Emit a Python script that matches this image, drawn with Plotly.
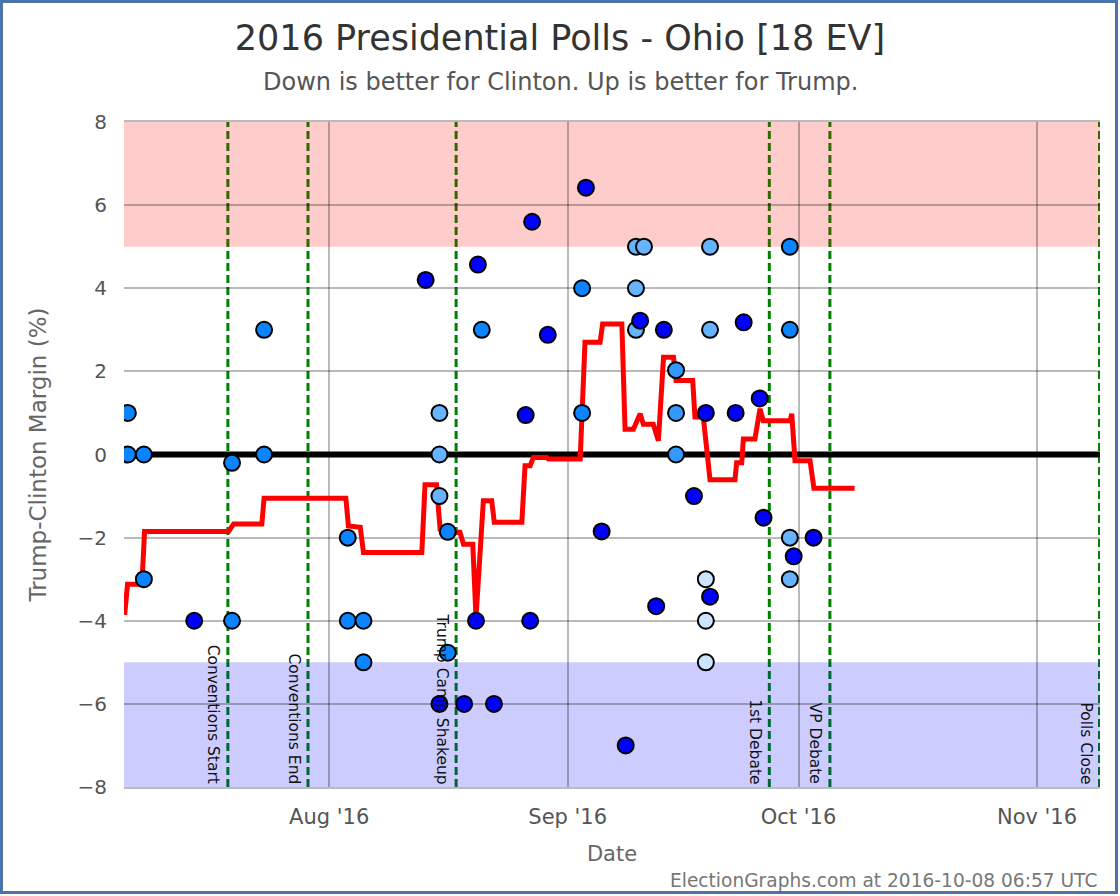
import plotly.graph_objects as go

# ---------------- data ----------------
poll_dates = [
    "2016-07-05 20:00", "2016-07-05 20:00", "2016-07-07 22:00", "2016-07-07 22:00",
    "2016-07-14 11:00", "2016-07-19 09:00", "2016-07-19 09:00", "2016-07-23 13:00",
    "2016-07-23 13:00", "2016-08-03 10:00", "2016-08-03 10:00", "2016-08-05 11:00",
    "2016-08-05 11:00", "2016-08-13 13:00", "2016-08-15 08:00", "2016-08-15 08:00",
    "2016-08-15 08:00", "2016-08-15 08:00", "2016-08-16 10:00", "2016-08-16 10:00",
    "2016-08-18 13:00", "2016-08-20 08:00", "2016-08-20 02:00", "2016-08-20 20:00",
    "2016-08-22 10:00", "2016-08-26 13:00", "2016-08-27 03:00", "2016-08-27 09:00",
    "2016-08-29 10:00", "2016-09-02 21:00", "2016-09-02 21:00", "2016-09-03 09:00",
    "2016-09-05 10:00", "2016-09-08 13:00", "2016-09-09 21:00", "2016-09-09 21:00",
    "2016-09-09 21:00", "2016-09-10 22:00", "2016-09-10 10:00", "2016-09-12 12:00",
    "2016-09-13 12:00", "2016-09-15 02:00", "2016-09-15 02:00", "2016-09-15 02:00",
    "2016-09-17 10:00", "2016-09-18 23:00", "2016-09-18 23:00", "2016-09-18 23:00",
    "2016-09-18 23:00", "2016-09-19 12:00", "2016-09-19 12:00", "2016-09-19 12:00",
    "2016-09-22 20:00", "2016-09-23 21:00", "2016-09-25 23:00", "2016-09-26 11:00",
    "2016-09-29 21:00", "2016-09-29 21:00", "2016-09-29 21:00", "2016-09-29 21:00",
    "2016-09-30 09:00", "2016-10-02 23:00",
]
poll_margins = [
    1, 0, 0, -3,
    -4, -0.2, -4, 0,
    3, -2, -4, -4,
    -5, 4.2, 1, 0,
    -1, -6, -1.86, -4.77,
    -6, 4.57, -4, 3,
    -6, 0.95, -4, 5.6,
    2.88, 1, 4, 6.42,
    -1.85, -7, 5, 4,
    3, 5, 3.22, -3.65,
    3, 2.03, 1, 0,
    -1, 1, -3, -4,
    -5, -3.42, 5, 3,
    1, 3.18, 1.35, -1.52,
    5, 3, -2, -3,
    -2.45, -2,
]
# 0 = faintest (superseded) ... 4 = strongest
poll_shade = [
    3, 3, 3, 3,
    4, 3, 3, 3,
    3, 3, 3, 3,
    3, 4, 1, 1,
    1, 4, 3, 3,
    4, 4, 4, 3,
    4, 4, 4, 4,
    4, 3, 3, 4,
    4, 4, 1, 1,
    1, 1, 4, 4,
    4, 2, 2, 2,
    4, 4, 0, 0,
    0, 4, 1, 1,
    4, 4, 4, 4,
    3, 3, 1, 1,
    4, 4,
]

avg_dates = [
    "2016-07-05 10:00", "2016-07-05 19:00", "2016-07-07 16:00", "2016-07-08 00:00",
    "2016-07-18 22:00", "2016-07-19 14:00", "2016-07-23 06:00", "2016-07-23 13:00",
    "2016-08-03 04:00", "2016-08-03 12:00", "2016-08-05 01:00", "2016-08-05 11:00",
    "2016-08-13 01:00", "2016-08-13 11:00", "2016-08-14 23:00", "2016-08-15 10:00",
    "2016-08-16 22:00", "2016-08-18 00:00", "2016-08-18 11:00", "2016-08-19 16:00",
    "2016-08-20 02:00", "2016-08-21 01:00", "2016-08-22 03:00", "2016-08-22 11:00",
    "2016-08-26 01:00", "2016-08-26 11:00", "2016-08-27 03:00", "2016-08-27 13:00",
    "2016-08-29 07:00", "2016-08-29 12:00", "2016-09-02 15:00", "2016-09-03 06:00",
    "2016-09-05 05:00", "2016-09-05 13:00", "2016-09-08 01:00", "2016-09-08 11:00",
    "2016-09-09 13:00", "2016-09-10 10:00", "2016-09-10 20:00", "2016-09-12 03:00",
    "2016-09-12 19:00", "2016-09-13 11:00", "2016-09-14 18:00", "2016-09-15 02:00",
    "2016-09-17 06:00", "2016-09-17 13:00", "2016-09-18 15:00", "2016-09-19 12:00",
    "2016-09-22 18:00", "2016-09-22 23:00", "2016-09-23 15:00", "2016-09-23 20:00",
    "2016-09-25 08:00", "2016-09-26 00:00", "2016-09-26 10:00", "2016-09-29 22:00",
    "2016-09-30 03:00", "2016-09-30 13:00", "2016-10-02 12:00", "2016-10-03 00:00",
    "2016-10-08 07:00",
]
avg_margins = [
    -3.86, -3.12, -3.12, -1.85,
    -1.85, -1.67, -1.67, -1.05,
    -1.05, -1.72, -1.75, -2.36,
    -2.36, -0.73, -0.73, -1.80,
    -1.87, -1.87, -2.16, -2.16,
    -3.92, -1.11, -1.11, -1.63,
    -1.63, -0.27, -0.27, -0.07,
    -0.07, -0.11, -0.11, 2.70,
    2.70, 3.14, 3.14, 0.61,
    0.61, 0.98, 0.73, 0.73,
    0.33, 2.34, 2.34, 1.78,
    1.78, 0.90, 0.90, -0.61,
    -0.61, -0.20, -0.20, 0.37,
    0.37, 1.10, 0.81, 0.81,
    0.98, -0.15, -0.15, -0.81,
    -0.81,
]

event_labels = ["Conventions Start", "Conventions End", "Trump Camp Shakeup",
                "1st Debate", "VP Debate", "Polls Close"]
event_dates = ["2016-07-18 20:00", "2016-07-29 06:00", "2016-08-17 12:00",
               "2016-09-27 05:00", "2016-10-05 02:00", "2016-11-09 03:00"]

x_range = ["2016-07-05 08:00", "2016-11-09 04:30"]
y_range = [-8, 8]
trump_band = [5, 8]
clinton_band = [-8, -5]

# ---------------- styling ----------------
FONT = "DejaVu Sans"
shade_colors = {0: "#cce5ff", 1: "#66b3ff", 2: "#3399ff", 3: "#0a84ff", 4: "#0000ff"}

W, H = 1120, 896
ML, MR, MT, MB = 124, 20, 122, 109
PW, PH = W - ML - MR, H - MT - MB


def px_x(px):
    return (px - ML) / PW


def px_y(py):
    return (H - MB - py) / PH


fig = go.Figure()

# zero line
fig.add_trace(go.Scatter(x=x_range, y=[0, 0], mode="lines",
                         line=dict(color="#000000", width=6),
                         hoverinfo="skip", showlegend=False))

# running average
fig.add_trace(go.Scatter(x=avg_dates, y=avg_margins, mode="lines",
                         line=dict(color="#ff0000", width=5),
                         showlegend=False))

# polls (faint first, strong on top)
order = sorted(range(len(poll_dates)), key=lambda i: poll_shade[i])
fig.add_trace(go.Scatter(
    x=[poll_dates[i] for i in order],
    y=[poll_margins[i] for i in order],
    mode="markers",
    marker=dict(size=16, color=[shade_colors[poll_shade[i]] for i in order],
                line=dict(color="#000000", width=2)),
    showlegend=False))

shapes = []
# event lines (under the bands)
for d in event_dates:
    shapes.append(dict(type="line", xref="x", yref="paper", x0=d, x1=d, y0=0, y1=1,
                       line=dict(color="#008000", width=3, dash="8px,4px"),
                       layer="below"))
# bands
shapes.append(dict(type="rect", xref="paper", yref="y", x0=0, x1=1,
                   y0=trump_band[0], y1=trump_band[1],
                   fillcolor="rgba(255,0,0,0.2)", line=dict(width=0), layer="below"))
shapes.append(dict(type="rect", xref="paper", yref="y", x0=0, x1=1,
                   y0=clinton_band[0], y1=clinton_band[1],
                   fillcolor="rgba(0,0,255,0.2)", line=dict(width=0), layer="below"))
# outer figure border
shapes.append(dict(type="rect", xref="paper", yref="paper",
                   x0=px_x(1.5), x1=px_x(1116.5), y0=px_y(892.5), y1=px_y(1.5),
                   line=dict(color="#4a74a8", width=3), fillcolor="rgba(0,0,0,0)",
                   layer="above"))

annotations = []
for lab, d in zip(event_labels, event_dates):
    annotations.append(dict(text=lab, x=d, xref="x", y=-8, yref="y",
                            xanchor="right", yanchor="bottom", textangle=90,
                            xshift=-3, yshift=1, showarrow=False,
                            font=dict(family=FONT, size=15.5, color="#111111")))
annotations.append(dict(text="Down is better for Clinton. Up is better for Trump.",
                        xref="paper", yref="paper", x=px_x(560), y=px_y(82),
                        xanchor="center", yanchor="middle", showarrow=False,
                        font=dict(family=FONT, size=24, color="#555555")))
annotations.append(dict(text="ElectionGraphs.com at 2016-10-08 06:57 UTC",
                        xref="paper", yref="paper", x=px_x(1099), y=px_y(880),
                        xanchor="right", yanchor="middle", showarrow=False,
                        font=dict(family=FONT, size=18.6, color="#777777")))

fig.update_layout(
    width=W, height=H,
    margin=dict(l=ML, r=MR, t=MT, b=MB, pad=0),
    paper_bgcolor="#ffffff", plot_bgcolor="#ffffff",
    title=dict(text="2016 Presidential Polls - Ohio [18 EV]",
               x=0.5, xanchor="center", y=1 - 38 / H, yanchor="middle",
               font=dict(family=FONT, size=35, color="#333333")),
    shapes=shapes, annotations=annotations,
    showlegend=False,
    font=dict(family=FONT),
)

fig.update_xaxes(
    type="date", range=x_range, tick0="2016-08-01", dtick="M1",
    tickformat="%b '%y", showgrid=True, gridcolor="rgba(0,0,0,0.27)", gridwidth=2,
    zeroline=False, showline=True, mirror=True, linecolor="#bbbbbb", linewidth=2,
    ticks="outside", ticklen=10, tickcolor="rgba(0,0,0,0)",
    tickfont=dict(family=FONT, size=21, color="#555555"),
    title=dict(text="Date", standoff=18, font=dict(family=FONT, size=21, color="#666666")),
)
fig.update_yaxes(
    range=y_range, dtick=2, tick0=0, showgrid=True, gridcolor="rgba(0,0,0,0.27)",
    gridwidth=2, zeroline=False, showline=False,
    ticks="outside", ticklen=12, tickcolor="rgba(0,0,0,0)",
    tickfont=dict(family=FONT, size=20, color="#555555"),
    title=dict(text="Trump-Clinton Margin (%)", standoff=24,
               font=dict(family=FONT, size=23, color="#666666")),
)

fig.write_html("out.html",
               config={"displayModeBar": False},
               post_script="document.body.style.margin='0';document.body.style.padding='0';")
